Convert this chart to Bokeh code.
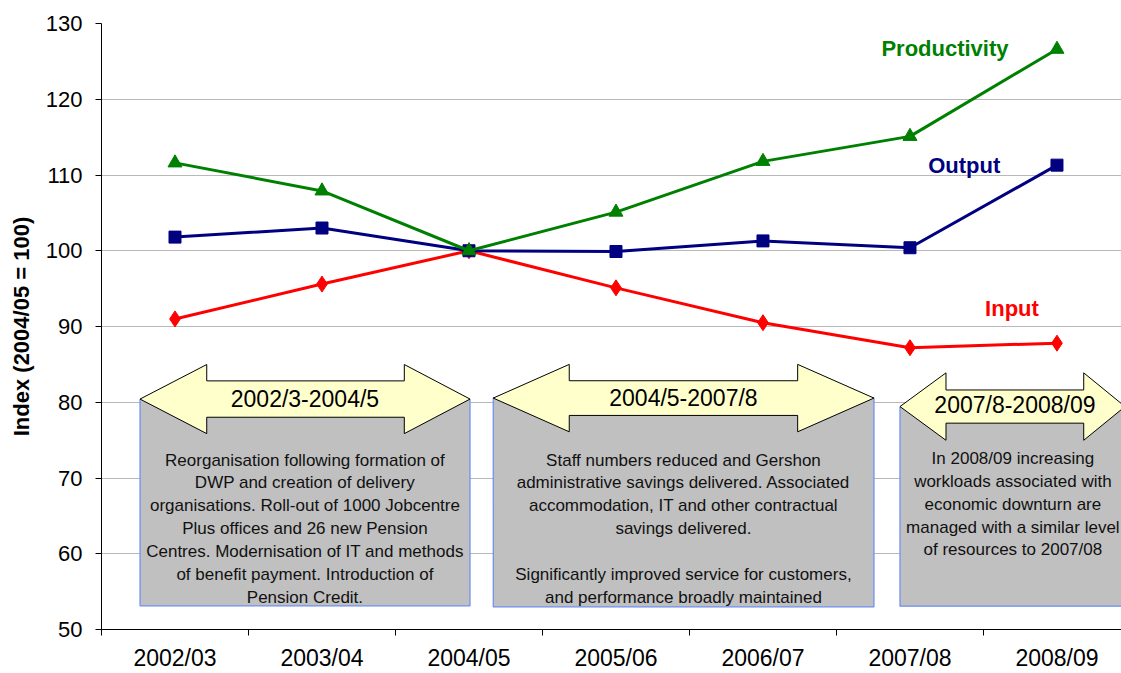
from bokeh.plotting import figure
from bokeh.models import Range1d, FixedTicker
from bokeh.core.properties import value
from bokeh.embed import file_html
from bokeh.resources import INLINE

# ---- data -------------------------------------------------------------
years = ["2002/03", "2003/04", "2004/05", "2005/06", "2006/07", "2007/08", "2008/09"]
productivity = [111.6, 107.9, 100.0, 105.1, 111.8, 115.1, 126.6]
output = [101.8, 103.0, 100.0, 99.9, 101.3, 100.4, 111.3]
inputs = [91.0, 95.6, 100.0, 95.1, 90.5, 87.2, 87.8]

period_labels = ["2002/3-2004/5", "2004/5-2007/8", "2007/8-2008/09"]
period_notes = [
    ["Reorganisation following formation of",
     "DWP and creation of delivery",
     "organisations. Roll-out of 1000 Jobcentre",
     "Plus offices and 26 new Pension",
     "Centres. Modernisation of IT and methods",
     "of benefit payment. Introduction of",
     "Pension Credit."],
    ["Staff numbers reduced and Gershon",
     "administrative savings delivered. Associated",
     "accommodation, IT and other contractual",
     "savings delivered.",
     "",
     "Significantly improved service for customers,",
     "and performance broadly maintained"],
    ["In 2008/09 increasing",
     "workloads associated with",
     "economic downturn are",
     "managed with a similar level",
     "of resources to 2007/08"],
]

FONT = "Liberation Sans"
xs = list(range(len(years)))

p = figure(width=1121, height=673, output_backend="svg", toolbar_location=None,
           x_range=Range1d(-0.5, 6.439), y_range=Range1d(50, 130),
           min_border_left=101, min_border_right=0, min_border_top=23,
           min_border_bottom=42)
p.outline_line_color = None
p.background_fill_color = "white"
p.border_fill_color = "white"

# ---- axes ---------------------------------------------------------------
xa = p.xaxis[0]
xa.ticker = FixedTicker(ticks=xs, minor_ticks=[i - 0.5 for i in range(len(years) + 1)])
xa.major_label_overrides = {i: y for i, y in enumerate(years)}
xa.major_tick_out = 0
xa.major_tick_in = 0
xa.minor_tick_out = 6
xa.minor_tick_in = 0
xa.minor_tick_line_color = "black"
xa.axis_line_color = "black"
xa.major_label_standoff = 9
xa.major_label_text_font = FONT
xa.major_label_text_font_size = "23px"
xa.major_label_text_color = "black"

ya = p.yaxis[0]
ya.ticker = FixedTicker(ticks=list(range(50, 131, 10)))
ya.major_tick_out = 6
ya.major_tick_in = 0
ya.minor_tick_line_color = None
ya.axis_line_color = "black"
ya.major_label_standoff = 13
ya.major_label_text_font = FONT
ya.major_label_text_font_size = "22px"
ya.major_label_text_color = "black"
ya.axis_label = "Index (2004/05 = 100)"
ya.axis_label_text_font = FONT
ya.axis_label_text_font_style = "bold"
ya.axis_label_text_font_size = "22px"
ya.axis_label_text_color = "black"
ya.axis_label_standoff = 9

p.xgrid.grid_line_color = None
p.ygrid.grid_line_color = "#b8b8b8"
p.ygrid.grid_line_width = 1

# ---- period boxes with double arrows ------------------------------------
boxes = [  # left, right, bottom, top
    (-0.238, 2.007, 53.12, 80.39),
    (2.165, 4.755, 52.99, 80.58),
    (4.932, 6.60, 53.08, 79.39),
]
arrows = [  # left tip, left head end, right head end, right tip, centre y, shaft half, head half
    (-0.238, 0.216, 1.560, 2.007, 80.42, 2.40, 4.56),
    (2.165, 2.682, 4.236, 4.755, 80.55, 2.29, 4.45),
    (4.932, 5.245, 6.182, 6.463, 79.43, 2.19, 4.45),
]
label_pos = [(0.884, 80.49), (3.459, 80.62), (5.714, 79.61)]
note_pos = [(0.884, 72.37), (3.459, 72.37), (5.70, 72.59)]
LINE_STEP = 3.02

for (l, r, b, t) in boxes:
    p.quad(left=l, right=r, bottom=b, top=t, fill_color="#c0c0c0",
           line_color="#6a8cf0", line_width=1.2)

for (x0, h0, h1, x1, yc, sh, hh) in arrows:
    px = [x0, h0, h0, h1, h1, x1, h1, h1, h0, h0]
    py = [yc, yc + hh, yc + sh, yc + sh, yc + hh, yc, yc - hh, yc - sh, yc - sh, yc - hh]
    p.patch(px, py, fill_color="#ffffcc", line_color="black", line_width=1)

for lab, (lx, ly) in zip(period_labels, label_pos):
    p.text(x=[lx], y=[ly], text=[lab], text_font=value(FONT), text_font_size="23px",
           text_align="center", text_baseline="middle", text_color="black")

for notes, (nx, ny) in zip(period_notes, note_pos):
    p.text(x=[nx] * len(notes), y=[ny - i * LINE_STEP for i in range(len(notes))],
           text=notes, text_font=value(FONT), text_font_size="17px",
           text_align="center", text_baseline="middle", text_color="#111111")

# ---- series -------------------------------------------------------------
p.line(xs, inputs, line_color="#ff0000", line_width=3)
p.scatter(xs, inputs, marker="diamond", size=16, fill_color="#ff0000", line_color="#ff0000")

p.line(xs, output, line_color="#000080", line_width=3)
p.scatter(xs, output, marker="square", size=12, fill_color="#000080", line_color="#000080")

p.line(xs, productivity, line_color="#008000", line_width=3)
p.scatter(xs, productivity, marker="triangle", size=14, fill_color="#008000", line_color="#008000")

series_names = ["Productivity", "Output", "Input"]
series_colors = ["#008000", "#000080", "#ff0000"]
series_label_x = [5.238, 5.369, 5.694]
series_label_y = [126.74, 111.32, 92.42]
for name, col, sx, sy in zip(series_names, series_colors, series_label_x, series_label_y):
    p.text(x=[sx], y=[sy], text=[name], text_font=value(FONT), text_font_style="bold",
           text_font_size="22px", text_align="center", text_baseline="middle",
           text_color=col)

open("out.html", "w").write(file_html(p, INLINE))
